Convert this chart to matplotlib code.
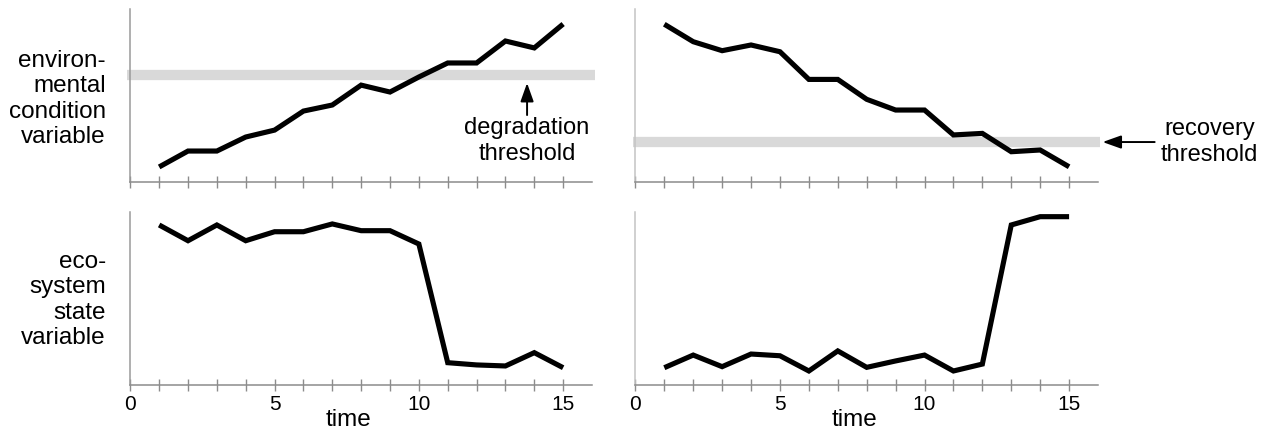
import matplotlib
matplotlib.use("Agg")
import matplotlib.pyplot as plt

plt.rcParams['font.family'] = ['Liberation Sans', 'DejaVu Sans']

# time steps
t = list(range(1, 16))

# environmental condition variable (arbitrary units, 0-10)
env_degrade = [0.87, 1.79, 1.79, 2.6, 3.0, 4.1, 4.45, 5.6, 5.2, 6.07, 6.88, 6.88, 8.15, 7.75, 9.13]
env_recover = [9.12, 8.11, 7.59, 7.92, 7.53, 5.93, 5.93, 4.78, 4.16, 4.16, 2.72, 2.81, 1.75, 1.85, 0.88]

# ecosystem state variable
eco_degrade = [9.25, 8.34, 9.25, 8.34, 8.86, 8.86, 9.31, 8.92, 8.92, 8.15, 1.29, 1.16, 1.10, 1.87, 1.0]
eco_recover = [1.0, 1.73, 1.06, 1.79, 1.69, 0.81, 1.97, 1.02, 1.39, 1.73, 0.81, 1.21, 9.25, 9.73, 9.73]

degradation_threshold = 6.18
recovery_threshold = 2.31

fig = plt.figure(figsize=(12.69, 4.32), dpi=100)

W, H = 1269, 432
def make_ax(left_px, right_px, top_px, bottom_px):
    return fig.add_axes([left_px / W, 1 - bottom_px / H,
                         (right_px - left_px) / W, (bottom_px - top_px) / H])

ax_tl = make_ax(130.3, 592, 9, 182)
ax_tr = make_ax(635.4, 1098, 9, 182)
ax_bl = make_ax(130.3, 592, 212, 385)
ax_br = make_ax(635.4, 1098, 212, 385)

for ax, spine_col in [(ax_tl, '#9a9a9a'), (ax_bl, '#9a9a9a'),
                      (ax_tr, '#c4c4c4'), (ax_br, '#c4c4c4')]:
    ax.set_xlim(0, 16)
    ax.set_ylim(0, 10)
    ax.spines['top'].set_visible(False)
    ax.spines['right'].set_visible(False)
    ax.spines['left'].set_color(spine_col)
    ax.spines['bottom'].set_color('#8c8c8c')
    ax.spines['left'].set_linewidth(1.1)
    ax.spines['bottom'].set_linewidth(1.1)
    ax.set_yticks([])
    ax.set_xticks(range(0, 16))
    ax.tick_params(axis='x', direction='inout', length=8, width=1.0,
                   color='#8c8c8c', labelsize=15, pad=3)
    ax.set_xticklabels([str(i) if i % 5 == 0 else '' for i in range(16)])

for ax in (ax_tl, ax_tr):
    ax.set_xticklabels([])

line_kw = dict(color='black', lw=3.7, solid_joinstyle='miter', solid_capstyle='butt', zorder=3)
band_kw = dict(color='#d9d9d9', lw=7.4, solid_capstyle='butt', clip_on=False, zorder=1)

ax_tl.plot([-0.11, 16.1], [degradation_threshold] * 2, **band_kw)
ax_tl.plot(t, env_degrade, **line_kw)
ax_tr.plot([-0.08, 16.06], [recovery_threshold] * 2, **band_kw)
ax_tr.plot(t, env_recover, **line_kw)
ax_bl.plot(t, eco_degrade, **line_kw)
ax_br.plot(t, eco_recover, **line_kw)

arrow_kw = dict(arrowstyle='-|>,head_length=0.7,head_width=0.25', color='black', lw=1.4,
                mutation_scale=16, shrinkA=0, shrinkB=0)

ax_tl.annotate('', xy=(13.75, 5.72), xytext=(13.75, 3.87), arrowprops=arrow_kw)
ax_tl.text(13.75, 2.35, 'degradation\nthreshold', ha='center', va='center',
           fontsize=17, linespacing=1.22)

ax_tr.annotate('', xy=(16.16, recovery_threshold), xytext=(17.96, recovery_threshold),
               arrowprops=arrow_kw, annotation_clip=False)
ax_tr.text(19.86, recovery_threshold, 'recovery\nthreshold', ha='center', va='center',
           fontsize=17, linespacing=1.22, clip_on=False)

for ax in (ax_bl, ax_br):
    ax.text(0.473, -0.205, 'time', transform=ax.transAxes, ha='center', va='center', fontsize=17.5)

fig.text(106 / W, 1 - 99 / H, 'environ-\nmental\ncondition\nvariable',
         ha='right', va='center', fontsize=17.5, linespacing=1.18)
fig.text(106 / W, 1 - 300 / H, 'eco-\nsystem\nstate\nvariable',
         ha='right', va='center', fontsize=17.5, linespacing=1.18)

fig.savefig('out.png', dpi=100)
